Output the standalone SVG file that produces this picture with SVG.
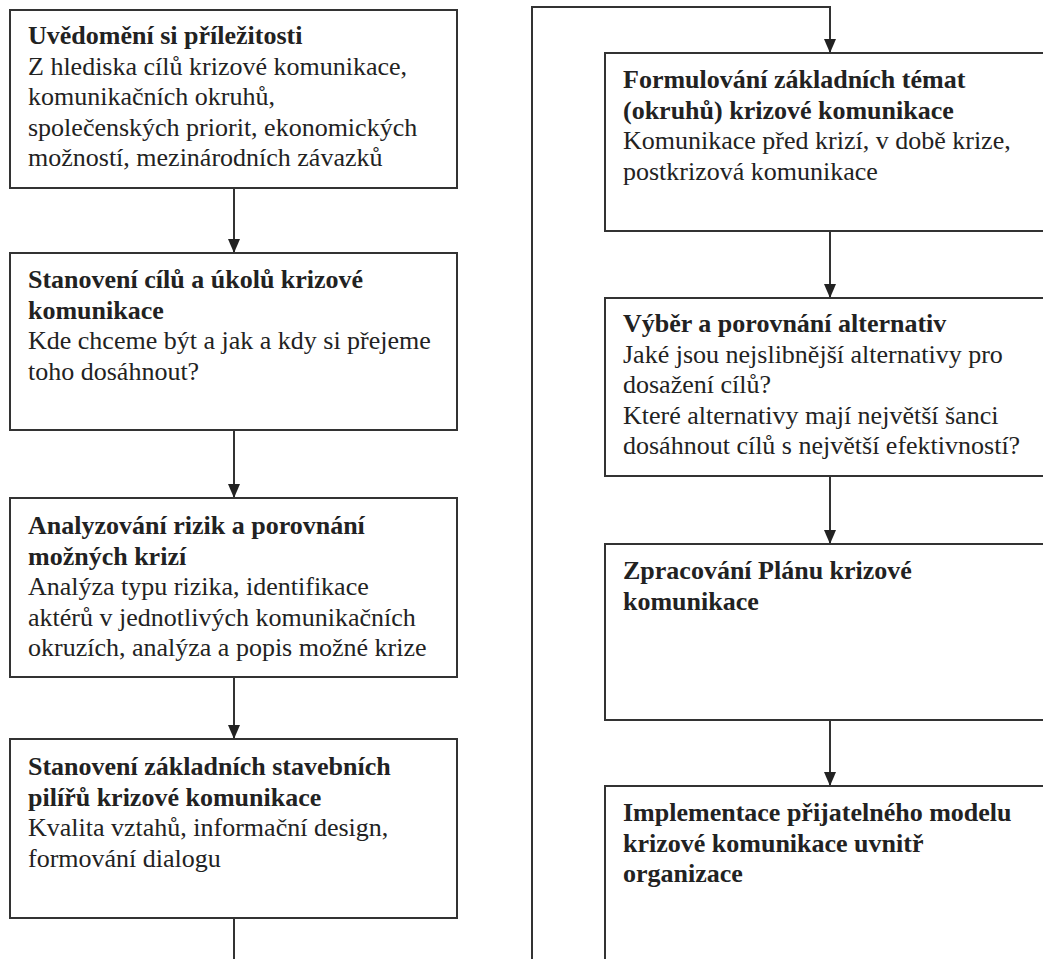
<svg xmlns="http://www.w3.org/2000/svg" width="1043" height="959" viewBox="0 0 1043 959">
<style>
.box{fill:#fff;stroke:#333;stroke-width:2}
.t{font-family:'Liberation Serif','Tinos','Noto Serif','DejaVu Serif','FreeSerif','Times New Roman',serif;font-size:26px;fill:#222}
.b{font-weight:bold}
.c{fill:none;stroke:#333;stroke-width:2;marker-end:url(#ah)}
.p{fill:none;stroke:#333;stroke-width:2}
</style>
<defs>
<marker id="ah" viewBox="0 0 14 12" refX="14" refY="6" markerWidth="14" markerHeight="12" markerUnits="userSpaceOnUse" orient="auto">
<path d="M0,0 L14,6 L0,12 Z" fill="#222"/>
</marker>
</defs>
<rect width="1043" height="959" fill="#fff"/>
<g id="connectors">
<path class="c" d="M234,188 V253"/>
<path class="c" d="M234,430 V498"/>
<path class="c" d="M234,677 V739"/>
<path class="p" d="M234,918 V960"/>
<path class="c" d="M532,960 V7 H830 V53"/>
<path class="c" d="M830,231 V298"/>
<path class="c" d="M830,476 V544"/>
<path class="c" d="M830,720 V786"/>
</g>
<g id="n1">
<rect class="box" x="10" y="10" width="447" height="178"/>
<text class="t"><tspan class="b" x="28" y="44">Uvědomění si příležitosti</tspan><tspan x="28" y="74.5">Z hlediska cílů krizové komunikace,</tspan><tspan x="28" y="105">komunikačních okruhů,</tspan><tspan x="28" y="135.5">společenských priorit, ekonomických</tspan><tspan x="28" y="166">možností, mezinárodních závazků</tspan></text>
</g>
<g id="n2">
<rect class="box" x="10" y="253" width="447" height="177"/>
<text class="t"><tspan class="b" x="28" y="288">Stanovení cílů a úkolů krizové</tspan><tspan class="b" x="28" y="318.5">komunikace</tspan><tspan x="28" y="349">Kde chceme být a jak a kdy si přejeme</tspan><tspan x="28" y="379.5">toho dosáhnout?</tspan></text>
</g>
<g id="n3">
<rect class="box" x="10" y="498" width="447" height="179"/>
<text class="t"><tspan class="b" x="28" y="534">Analyzování rizik a porovnání</tspan><tspan class="b" x="28" y="564.5">možných krizí</tspan><tspan x="28" y="595">Analýza typu rizika, identifikace</tspan><tspan x="28" y="625.5">aktérů v jednotlivých komunikačních</tspan><tspan x="28" y="656">okruzích, analýza a popis možné krize</tspan></text>
</g>
<g id="n4">
<rect class="box" x="10" y="739" width="447" height="179"/>
<text class="t"><tspan class="b" x="28" y="775">Stanovení základních stavebních</tspan><tspan class="b" x="28" y="805.5">pilířů krizové komunikace</tspan><tspan x="28" y="836">Kvalita vztahů, informační design,</tspan><tspan x="28" y="866.5">formování dialogu</tspan></text>
</g>
<g id="n5">
<rect class="box" x="605" y="53" width="450" height="178"/>
<text class="t"><tspan class="b" x="623" y="88">Formulování základních témat</tspan><tspan class="b" x="623" y="118.5">(okruhů) krizové komunikace</tspan><tspan x="623" y="149">Komunikace před krizí, v době krize,</tspan><tspan x="623" y="179.5">postkrizová komunikace</tspan></text>
</g>
<g id="n6">
<rect class="box" x="605" y="298" width="450" height="178"/>
<text class="t"><tspan class="b" x="623" y="332">Výběr a porovnání alternativ</tspan><tspan x="623" y="362.5">Jaké jsou nejslibnější alternativy pro</tspan><tspan x="623" y="393">dosažení cílů?</tspan><tspan x="623" y="423.5">Které alternativy mají největší šanci</tspan><tspan x="623" y="454">dosáhnout cílů s největší efektivností?</tspan></text>
</g>
<g id="n7">
<rect class="box" x="605" y="544" width="450" height="176"/>
<text class="t"><tspan class="b" x="623" y="579">Zpracování Plánu krizové</tspan><tspan class="b" x="623" y="609.5">komunikace</tspan></text>
</g>
<g id="n8">
<rect class="box" x="605" y="786" width="450" height="190"/>
<text class="t"><tspan class="b" x="623" y="821">Implementace přijatelného modelu</tspan><tspan class="b" x="623" y="851.5">krizové komunikace uvnitř</tspan><tspan class="b" x="623" y="882">organizace</tspan></text>
</g>
</svg>
